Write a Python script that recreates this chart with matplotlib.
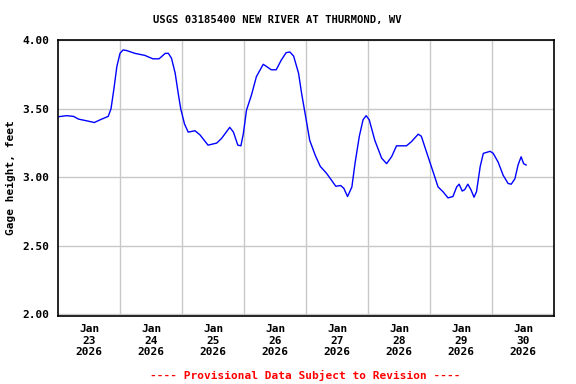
import matplotlib
matplotlib.use('Agg')
import matplotlib.pyplot as plt

# time in days since Jan 23 2026 00:00, gage height in feet
days = [0.00, 0.14, 0.25, 0.33, 0.49, 0.585, 0.68, 0.81, 0.855, 0.90, 0.95, 1.00,
        1.05, 1.11, 1.24, 1.40, 1.53, 1.63, 1.73, 1.78, 1.83, 1.89, 1.94, 1.98,
        2.04, 2.10, 2.21, 2.29, 2.42, 2.56, 2.64, 2.77, 2.83, 2.90, 2.95, 2.99,
        3.04, 3.12, 3.20, 3.31, 3.36, 3.44, 3.52, 3.60, 3.68, 3.74, 3.80, 3.88,
        3.93, 3.98, 4.06, 4.15, 4.23, 4.33, 4.41, 4.48, 4.56, 4.61, 4.67, 4.74,
        4.79, 4.86, 4.92, 4.97, 5.02, 5.11, 5.22, 5.30, 5.38, 5.46, 5.62, 5.70,
        5.81, 5.86, 5.94, 6.05, 6.13, 6.21, 6.29, 6.37, 6.43, 6.47, 6.52, 6.56,
        6.61, 6.66, 6.71, 6.75, 6.81, 6.86, 6.97, 7.02, 7.10, 7.18, 7.26, 7.31,
        7.37, 7.42, 7.47, 7.51, 7.55]
height = [3.442, 3.45, 3.445, 3.425, 3.41, 3.40, 3.42, 3.445, 3.50, 3.64, 3.81, 3.905,
          3.93, 3.925, 3.905, 3.89, 3.865, 3.865, 3.905, 3.905, 3.87, 3.76, 3.61, 3.50,
          3.39, 3.33, 3.34, 3.31, 3.235, 3.25, 3.285, 3.365, 3.33, 3.235, 3.23, 3.32,
          3.49, 3.60, 3.735, 3.825, 3.81, 3.785, 3.785, 3.855, 3.91, 3.915, 3.885, 3.76,
          3.61, 3.48, 3.27, 3.16, 3.08, 3.03, 2.98, 2.935, 2.94, 2.92, 2.86, 2.93,
          3.10, 3.30, 3.42, 3.45, 3.42, 3.27, 3.14, 3.10, 3.15, 3.23, 3.23, 3.26,
          3.315, 3.30, 3.19, 3.04, 2.93, 2.895, 2.85, 2.86, 2.93, 2.95, 2.90, 2.91,
          2.95, 2.91, 2.855, 2.895, 3.08, 3.175, 3.19, 3.175, 3.11, 3.015, 2.955, 2.95,
          2.99, 3.09, 3.15, 3.10, 3.09]

day_labels = ['Jan\n23\n2026', 'Jan\n24\n2026', 'Jan\n25\n2026', 'Jan\n26\n2026',
              'Jan\n27\n2026', 'Jan\n28\n2026', 'Jan\n29\n2026', 'Jan\n30\n2026']
y_ticks = [2.0, 2.5, 3.0, 3.5, 4.0]

font = 'DejaVu Sans Mono'

fig = plt.figure(figsize=(5.76, 3.84), dpi=100)
ax = fig.add_axes([58/576, 1 - 316/384, 496/576, 276.5/384])

ax.plot(days, height, color='#0000ff', linewidth=1.0)

ax.set_xlim(0, 8)
ax.set_ylim(1.988, 4.006)

ax.set_xticks(range(1, 8))
ax.set_xticklabels([])
ax.set_xticks([i + 0.5 for i in range(8)], minor=True)
ax.set_xticklabels(day_labels, minor=True, fontfamily=font, fontweight='bold',
                   fontsize=8, linespacing=1.15)
ax.set_yticks(y_ticks)
ax.set_yticklabels(['%.2f' % v for v in y_ticks], fontfamily=font,
                   fontweight='bold', fontsize=8)
ax.tick_params(which='both', length=0)
ax.tick_params(axis='x', which='minor', pad=6)
ax.tick_params(axis='y', pad=6)

ax.grid(True, which='major', color='#c8c8c8', linewidth=1.0)
for s in ax.spines.values():
    s.set_linewidth(1.2)

ax.set_ylabel('Gage height, feet', fontfamily=font, fontweight='bold', fontsize=8)
ax.yaxis.set_label_coords(-0.085, 0.5)

fig.text(277/576, 1 - 20/384, 'USGS 03185400 NEW RIVER AT THURMOND, WV',
         ha='center', va='center', fontfamily=font, fontweight='bold', fontsize=7.6)
fig.text(305/576, 1 - 375/384, '---- Provisional Data Subject to Revision ----',
         ha='center', va='center', color='red', fontfamily=font,
         fontweight='bold', fontsize=8)

fig.savefig('out.png', dpi=100)
